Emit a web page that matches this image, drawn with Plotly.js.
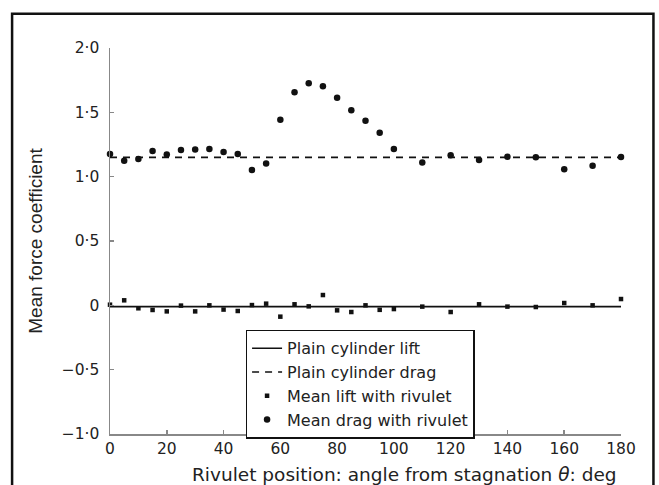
<!DOCTYPE html>
<html>
<head>
<meta charset="utf-8">
<script src="https://cdn.plot.ly/plotly-3.0.1.min.js"></script>
<style>html,body{margin:0;padding:0;background:#fff;}#chart{width:659px;height:485px;}</style>
</head>
<body>
<div id="chart"></div>
<script>
// Angles (deg)
const angles = [0,5,10,15,20,25,30,35,40,45,50,55,60,65,70,75,80,85,90,95,100,110,120,130,140,150,160,170,180];
// Mean drag with rivulet
const dragRivulet = [1.176,1.124,1.137,1.199,1.173,1.207,1.212,1.215,1.192,1.176,1.051,1.103,1.443,1.657,1.727,1.703,1.614,1.516,1.435,1.342,1.215,1.111,1.166,1.129,1.155,1.150,1.057,1.085,1.153];
// Mean lift with rivulet
const liftRivulet = [0.005,0.039,-0.023,-0.036,-0.047,-0.002,-0.047,0.0,-0.033,-0.044,0.002,0.013,-0.088,0.008,-0.008,0.080,-0.039,-0.052,0.0,-0.035,-0.029,-0.010,-0.052,0.008,-0.010,-0.013,0.018,0.0,0.049];
// Plain cylinder reference lines
const plainX = [0,180];
const plainLift = [-0.01,-0.01];
const plainDrag = [1.15,1.15];
// Tick labels
const xTickVals = [0,20,40,60,80,100,120,140,160,180];
const xTickText = ['0','20','40','60','80','100','120','140','160','180'];
const yTickVals = [2,1.5,1,0.5,0,-0.5,-1];
const yTickText = ['2\u00b70','1\u00b75','1\u00b70','0\u00b75','0','\u22120\u00b75','\u22121\u00b70'];
const xTitle = 'Rivulet position: angle from stagnation <i>\u03b8</i>: deg';
const yTitle = 'Mean force coefficient';

const FONT = 'DejaVu Sans, Verdana, sans-serif';
const FONT2 = 'Liberation Sans, Arial, Helvetica, sans-serif';

const traces = [
  {x: plainX, y: plainLift, mode: 'lines', name: 'Plain cylinder lift',
   line: {color: '#111', width: 1.6}, cliponaxis: false},
  {x: plainX, y: plainDrag, mode: 'lines', name: 'Plain cylinder drag',
   line: {color: '#111', width: 1.6, dash: '7px,6px'}, cliponaxis: false},
  {x: angles, y: liftRivulet, mode: 'markers', name: 'Mean lift with rivulet',
   marker: {symbol: 'square', size: 4.5, color: '#111'}, cliponaxis: false},
  {x: angles, y: dragRivulet, mode: 'markers', name: 'Mean drag with rivulet',
   marker: {symbol: 'circle', size: 6.5, color: '#111'}, cliponaxis: false}
];

const layout = {
  width: 659, height: 485,
  margin: {l: 110, r: 37.5, t: 48.3, b: 50.7, pad: 0},
  paper_bgcolor: '#fff', plot_bgcolor: '#fff',
  font: {family: FONT, size: 16, color: '#222'},
  showlegend: true,
  legend: {
    x: 0.2653, y: 0.270, xanchor: 'left', yanchor: 'top',
    bgcolor: '#fff', bordercolor: '#111', borderwidth: 1.5,
    font: {family: FONT, size: 16, color: '#222'},
    tracegroupgap: 0
  },
  xaxis: {
    range: [0, 180], tickvals: xTickVals, ticktext: xTickText,
    ticks: 'inside', ticklen: 4, tickcolor: '#888', tickwidth: 1.5,
    showline: true, linecolor: '#888', linewidth: 1.5,
    showgrid: false, zeroline: false, fixedrange: true,
    tickfont: {family: FONT, size: 15.5}
  },
  yaxis: {
    range: [-1, 2], tickvals: yTickVals, ticktext: yTickText,
    ticks: 'inside', ticklen: 4, tickcolor: '#888', tickwidth: 1.5,
    showline: true, linecolor: '#888', linewidth: 1.5,
    showgrid: false, zeroline: false, fixedrange: true,
    tickfont: {family: FONT, size: 15.5}, ticklabelstandoff: 6,
    title: {text: yTitle, font: {family: FONT2, size: 19}, standoff: 14}
  },
  annotations: [{
    text: xTitle, xref: 'paper', yref: 'paper',
    x: 0.577, y: -0.1054, xanchor: 'center', yanchor: 'middle',
    showarrow: false, font: {family: FONT, size: 18.5, color: '#222'}
  }],
  shapes: [{
    type: 'rect', xref: 'paper', yref: 'paper',
    x0: -0.1916, x1: 1.0635, y0: -0.25, y1: 1.0889,
    line: {color: '#111', width: 2.5}, fillcolor: 'rgba(0,0,0,0)', layer: 'above'
  }]
};

Plotly.newPlot('chart', traces, layout, {displayModeBar: false, staticPlot: true});
</script>
</body>
</html>
